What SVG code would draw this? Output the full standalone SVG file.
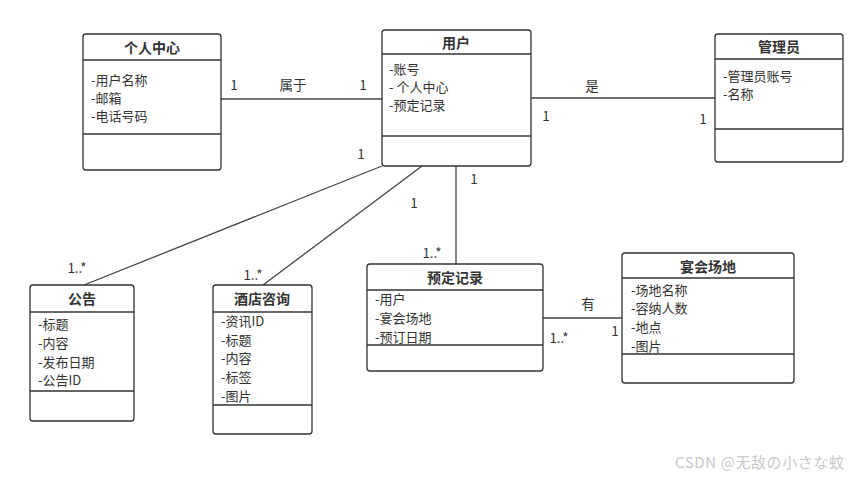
<svg xmlns="http://www.w3.org/2000/svg" width="860" height="478" viewBox="0 0 860 478">
<style>
.box{fill:#fff;stroke:#333;stroke-width:1.3}
.sep{stroke:#333;stroke-width:1.3}
.ln{stroke:#444;stroke-width:1.3;fill:none}
text{font-family:"Noto Sans CJK SC","Noto Sans",sans-serif;fill:#333}
.t{font-size:14px;font-weight:bold;text-anchor:middle}
.a{font-size:13px}
.l{font-size:13.5px;text-anchor:middle}
.wm{font-size:15px;fill:#c8c8c8;letter-spacing:0.6px}
</style>
<rect width="860" height="478" fill="#fff"/>
<g id="connectors">
<line class="ln" x1="221" y1="99" x2="382" y2="99"/>
<line class="ln" x1="531" y1="98" x2="715" y2="98"/>
<line class="ln" x1="382" y1="166" x2="84" y2="285"/>
<line class="ln" x1="422" y1="166" x2="263" y2="285"/>
<line class="ln" x1="456" y1="166" x2="456" y2="264"/>
<line class="ln" x1="543" y1="318" x2="622" y2="318"/>
<text class="l" x="234" y="90">1</text>
<text class="l" x="293" y="90">属于</text>
<text class="l" x="363" y="90">1</text>
<text class="l" x="592" y="91">是</text>
<text class="l" x="546" y="121">1</text>
<text class="l" x="703" y="124">1</text>
<text class="l" x="361" y="159">1</text>
<text class="l" x="77" y="273">1..*</text>
<text class="l" x="414" y="208">1</text>
<text class="l" x="253" y="280">1..*</text>
<text class="l" x="474" y="184">1</text>
<text class="l" x="432" y="258">1..*</text>
<text class="l" x="588" y="309">有</text>
<text class="l" x="559" y="343">1..*</text>
<text class="l" x="615" y="336">1</text>
</g>
<g id="gerenzhongxin">
<rect class="box" x="83" y="34" width="138" height="136" rx="3"/>
<line class="sep" x1="83" y1="60" x2="221" y2="60"/>
<line class="sep" x1="83" y1="134" x2="221" y2="134"/>
<text class="t" x="152" y="53">个人中心</text>
<text class="a" x="91" y="85">-用户名称</text>
<text class="a" x="91" y="103">-邮箱</text>
<text class="a" x="91" y="121">-电话号码</text>
</g>
<g id="yonghu">
<rect class="box" x="382" y="30" width="149" height="136" rx="3"/>
<line class="sep" x1="382" y1="54" x2="531" y2="54"/>
<line class="sep" x1="382" y1="136" x2="531" y2="136"/>
<text class="t" x="456" y="48">用户</text>
<text class="a" x="389" y="74">-账号</text>
<text class="a" x="389" y="92">- 个人中心</text>
<text class="a" x="389" y="110">-预定记录</text>
</g>
<g id="guanliyuan">
<rect class="box" x="715" y="34" width="128" height="128" rx="3"/>
<line class="sep" x1="715" y1="59" x2="843" y2="59"/>
<line class="sep" x1="715" y1="129" x2="843" y2="129"/>
<text class="t" x="779" y="52">管理员</text>
<text class="a" x="723" y="81">-管理员账号</text>
<text class="a" x="723" y="99">-名称</text>
</g>
<g id="gonggao">
<rect class="box" x="30" y="285" width="104" height="136" rx="3"/>
<line class="sep" x1="30" y1="312" x2="134" y2="312"/>
<line class="sep" x1="30" y1="391" x2="134" y2="391"/>
<text class="t" x="82" y="304">公告</text>
<text class="a" x="38" y="329">-标题</text>
<text class="a" x="38" y="348">-内容</text>
<text class="a" x="38" y="367">-发布日期</text>
<text class="a" x="38" y="385">-公告ID</text>
</g>
<g id="jiudianzixun">
<rect class="box" x="213" y="285" width="99" height="149" rx="3"/>
<line class="sep" x1="213" y1="312" x2="312" y2="312"/>
<line class="sep" x1="213" y1="405" x2="312" y2="405"/>
<text class="t" x="262" y="304">酒店咨询</text>
<text class="a" x="221" y="326">-资讯ID</text>
<text class="a" x="221" y="345">-标题</text>
<text class="a" x="221" y="363">-内容</text>
<text class="a" x="221" y="382">-标签</text>
<text class="a" x="221" y="401">-图片</text>
</g>
<g id="yudingjilu">
<rect class="box" x="367" y="264" width="176" height="107" rx="3"/>
<line class="sep" x1="367" y1="290" x2="543" y2="290"/>
<line class="sep" x1="367" y1="345" x2="543" y2="345"/>
<text class="t" x="455" y="283">预定记录</text>
<text class="a" x="375" y="304">-用户</text>
<text class="a" x="375" y="323">-宴会场地</text>
<text class="a" x="375" y="342">-预订日期</text>
</g>
<g id="yanhuichangdi">
<rect class="box" x="622" y="253" width="172" height="130" rx="3"/>
<line class="sep" x1="622" y1="278" x2="794" y2="278"/>
<line class="sep" x1="622" y1="354" x2="794" y2="354"/>
<text class="t" x="708" y="272">宴会场地</text>
<text class="a" x="631" y="295">-场地名称</text>
<text class="a" x="631" y="313">-容纳人数</text>
<text class="a" x="631" y="332">-地点</text>
<text class="a" x="631" y="351">-图片</text>
</g>
<text class="wm" x="675" y="468">CSDN @无敌の小さな蚊</text>
</svg>
